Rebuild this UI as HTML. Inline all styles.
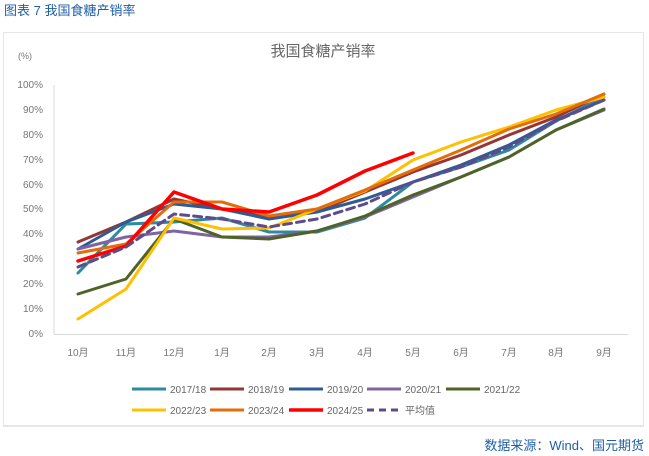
<!DOCTYPE html>
<html><head><meta charset="utf-8"><style>
html,body{margin:0;padding:0;background:#fff;}
body{width:649px;height:456px;position:relative;overflow:hidden;font-family:"Liberation Sans","Noto Sans CJK SC",sans-serif;}
</style></head><body>
<svg width="649" height="456" xmlns="http://www.w3.org/2000/svg" style="position:absolute;left:0;top:0">
<text x="4" y="15" font-size="13" fill="#1f5fa6" font-family="Liberation Sans,Noto Sans CJK SC,sans-serif">图表 7  我国食糖产销率</text>
<rect x="3.5" y="32.5" width="640" height="393" fill="#fff" stroke="#e6e6e6"/>
<line x1="3" y1="426" x2="644" y2="426" stroke="#e6e6e6" stroke-width="2"/>
<text x="323" y="56" font-size="15" fill="#666" text-anchor="middle" font-family="Liberation Sans,Noto Sans CJK SC,sans-serif">我国食糖产销率</text>
<text x="18" y="59" font-size="9" fill="#777">(%)</text>
<g font-size="10" fill="#777" text-anchor="end">
<text x="43" y="337">0%</text><text x="43" y="312">10%</text><text x="43" y="287">20%</text><text x="43" y="262">30%</text><text x="43" y="237">40%</text><text x="43" y="212">50%</text><text x="43" y="188">60%</text><text x="43" y="163">70%</text><text x="43" y="138">80%</text><text x="43" y="113">90%</text><text x="43" y="88">100%</text>
</g>
<line x1="54" y1="85" x2="54" y2="334" stroke="#d9d9d9"/>
<line x1="54" y1="334.5" x2="628" y2="334.5" stroke="#d9d9d9"/>
<g font-size="10" fill="#777" text-anchor="middle" font-family="Liberation Sans,Noto Sans CJK SC,sans-serif">
<text x="78" y="356">10月</text><text x="126" y="356">11月</text><text x="174" y="356">12月</text><text x="222" y="356">1月</text><text x="269" y="356">2月</text><text x="317" y="356">3月</text><text x="365" y="356">4月</text><text x="413" y="356">5月</text><text x="461" y="356">6月</text><text x="509" y="356">7月</text><text x="556" y="356">8月</text><text x="604" y="356">9月</text>
</g>
<g fill="none" stroke-width="3" stroke-linejoin="round" stroke-linecap="round">
<polyline stroke="#2e8a9e" points="78,273 126,224 174,222 222,218 269,232 317,232 365,218 413,182 461,167 509,150 556,121 604,97"/>
<polyline stroke="#943634" points="78,242 126,222 174,199 222,209 269,217 317,212 365,192 413,172 461,155 509,135 556,117 604,94"/>
<polyline stroke="#2f5b95" points="78,249 126,222 174,204 222,209 269,219 317,212 365,199 413,182 461,165 509,145 556,120 604,100"/>
<polyline stroke="#8064a2" points="78,249 126,237 174,231 222,237 269,237 317,231 365,217 413,197 461,177 509,157 556,130 604,110"/>
<polyline stroke="#4f6228" points="78,294 126,279 174,219 222,237 269,239 317,231 365,216 413,195 461,177 509,157 556,130 604,109"/>
<polyline stroke="#ffc000" points="78,319 126,289 174,218 222,229 269,228 317,209 365,191 413,160 461,142 509,127 556,110 604,97"/>
<polyline stroke="#e46c0a" points="78,253 126,244 174,202 222,202 269,216 317,209 365,190 413,170 461,150 509,129 556,114 604,94"/>
<polyline stroke="#ff0000" stroke-width="3.5" points="78,261 126,246 174,192 222,209 269,212 317,195 365,171 413,153"/>
<polyline stroke="#5f4b8b" stroke-dasharray="8,5" points="78,267 126,247 174,214 222,219 269,227 317,219 365,204 413,182 461,167 509,147 556,121 604,100"/>
</g>
<g font-size="10" fill="#666">
<line x1="132" y1="389" x2="166" y2="389" stroke="#2e8a9e" stroke-width="3"/><text x="170" y="393">2017/18</text>
<line x1="210" y1="389" x2="244" y2="389" stroke="#943634" stroke-width="3"/><text x="248" y="393">2018/19</text>
<line x1="289" y1="389" x2="323" y2="389" stroke="#2f5b95" stroke-width="3"/><text x="327" y="393">2019/20</text>
<line x1="367" y1="389" x2="401" y2="389" stroke="#8064a2" stroke-width="3"/><text x="405" y="393">2020/21</text>
<line x1="446" y1="389" x2="480" y2="389" stroke="#4f6228" stroke-width="3"/><text x="484" y="393">2021/22</text>
<line x1="132" y1="410" x2="166" y2="410" stroke="#ffc000" stroke-width="3"/><text x="170" y="414">2022/23</text>
<line x1="210" y1="410" x2="244" y2="410" stroke="#e46c0a" stroke-width="3"/><text x="248" y="414">2023/24</text>
<line x1="289" y1="410" x2="323" y2="410" stroke="#ff0000" stroke-width="3.5"/><text x="327" y="414">2024/25</text>
<line x1="367" y1="410" x2="401" y2="410" stroke="#5f4b8b" stroke-width="3" stroke-dasharray="7,5"/><text x="405" y="414" font-family="Liberation Sans,Noto Sans CJK SC,sans-serif">平均值</text>
</g>
<text x="644" y="450" font-size="13" fill="#1f5fa6" text-anchor="end" font-family="Liberation Sans,Noto Sans CJK SC,sans-serif">数据来源：Wind、国元期货</text>
</svg>
</body></html>
